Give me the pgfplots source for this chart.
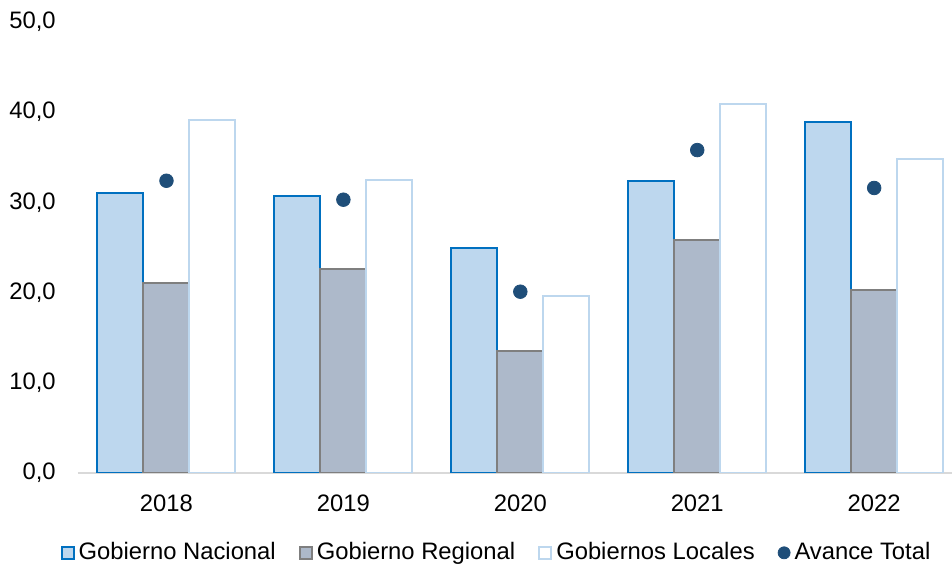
\documentclass[border=0pt]{standalone}
\usepackage{pgfplots}
\pgfplotsset{compat=1.18}
\usepackage{fontspec}
\setmainfont{Liberation Sans}
\definecolor{nacF}{HTML}{BDD7EE}
\definecolor{nacE}{HTML}{0070C0}
\definecolor{regF}{HTML}{ADB9CA}
\definecolor{regE}{HTML}{7F7F7F}
\definecolor{locE}{HTML}{BDD7EE}
\definecolor{dot}{HTML}{1F4E79}
\definecolor{axl}{HTML}{D9D9D9}
\pgfplotsset{
  sqlegend/.style={legend image code/.code={\draw[##1] (0pt,-3pt) rectangle (6pt,3pt);}},
  dotlegend/.style={legend image code/.code={\fill[dot] (3pt,0pt) circle (3pt);}},
}
\begin{document}
\fontsize{11.9}{14}\selectfont
\begin{tikzpicture}
\path[use as bounding box] (0,0) rectangle (476pt,283pt);
\begin{axis}[
  at={(39pt,46.5pt)}, anchor=south west,
  scale only axis, width=437pt, height=225.5pt,
  xmin=-0.5, xmax=4.44, ymin=0, ymax=50,
  xtick={0,1,2,3,4}, xticklabels={2018,2019,2020,2021,2022},
  ytick={0,10,20,30,40,50},
  major tick length=0pt,
  axis x line*=bottom, axis y line*=left,
  x axis line style={draw=axl, line width=0.8pt},
  y axis line style={draw=none},
  /pgf/number format/assume math mode=true,
  yticklabel style={/pgf/number format/.cd, fixed, fixed zerofill, precision=1, use comma, /tikz/.cd, xshift=-7pt},
  xticklabel style={yshift=-7pt},
  ticklabel style={font=\fontsize{11.9}{14}\selectfont},
  legend columns=-1,
  legend style={draw=none, fill=none, at={(0.48,-0.177)}, anchor=center,
    font=\fontsize{11.9}{14}\selectfont,
    /tikz/every even column/.append style={column sep=9.5pt},
    inner sep=0pt},
  legend cell align=left,
]
\addplot[ybar, bar width=23pt, bar shift=-23pt, fill=nacF, draw=nacE, line width=1pt, sqlegend]
  coordinates {(0,31.0) (1,30.7) (2,24.9) (3,32.4) (4,38.9)};
\addlegendentry{Gobierno Nacional}
\addplot[ybar, bar width=23pt, bar shift=0pt, fill=regF, draw=regE, line width=1pt, sqlegend]
  coordinates {(0,21.1) (1,22.6) (2,13.5) (3,25.8) (4,20.3)};
\addlegendentry{Gobierno Regional}
\addplot[ybar, bar width=23pt, bar shift=23pt, fill=white, draw=locE, line width=1pt, sqlegend]
  coordinates {(0,39.1) (1,32.5) (2,19.6) (3,40.9) (4,34.8)};
\addlegendentry{Gobiernos Locales}
\addplot[only marks, mark=*, mark size=3.4pt, color=dot, fill=dot, dotlegend]
  coordinates {(0,32.4) (1,30.3) (2,20.1) (3,35.8) (4,31.6)};
\addlegendentry{Avance Total}
\end{axis}
\end{tikzpicture}
\end{document}
